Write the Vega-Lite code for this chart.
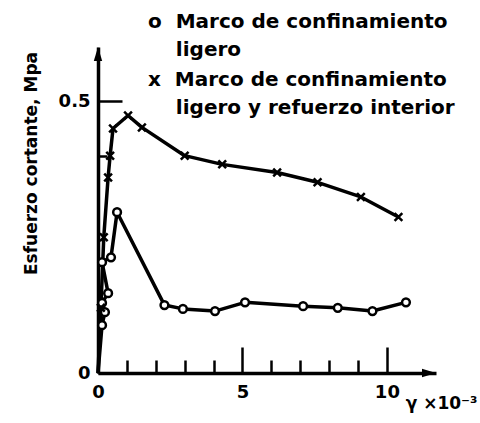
{
  "$schema": "https://vega.github.io/schema/vega-lite/v6.json",
  "width": 338,
  "height": 326,
  "autosize": {"type": "none"},
  "padding": {"left": 98, "top": 47, "right": 44, "bottom": 50},
  "background": "white",
  "config": {"view": {"stroke": null}, "font": "DejaVu Sans", "style": {"guide-label": {"lineHeight": 28}}},
  "datasets": {
    "curves": [
      {"serie": "A", "i": 0, "x": 0, "y": 0},
      {"serie": "A", "i": 1, "x": 0.14, "y": 0.088},
      {"serie": "A", "i": 2, "x": 0.24, "y": 0.112},
      {"serie": "A", "i": 3, "x": 0.14, "y": 0.129},
      {"serie": "A", "i": 4, "x": 0.35, "y": 0.147},
      {"serie": "A", "i": 5, "x": 0.14, "y": 0.204},
      {"serie": "A", "i": 6, "x": 0.45, "y": 0.213},
      {"serie": "A", "i": 7, "x": 0.66, "y": 0.296},
      {"serie": "A", "i": 8, "x": 2.3, "y": 0.125},
      {"serie": "A", "i": 9, "x": 2.94, "y": 0.118},
      {"serie": "A", "i": 10, "x": 4.05, "y": 0.114},
      {"serie": "A", "i": 11, "x": 5.09, "y": 0.13},
      {"serie": "A", "i": 12, "x": 7.1, "y": 0.123},
      {"serie": "A", "i": 13, "x": 8.3, "y": 0.12},
      {"serie": "A", "i": 14, "x": 9.5, "y": 0.114},
      {"serie": "A", "i": 15, "x": 10.66, "y": 0.13},
      {"serie": "B", "i": 0, "x": 0, "y": 0},
      {"serie": "B", "i": 1, "x": 0.1, "y": 0.12},
      {"serie": "B", "i": 2, "x": 0.2, "y": 0.25},
      {"serie": "B", "i": 3, "x": 0.35, "y": 0.36},
      {"serie": "B", "i": 4, "x": 0.42, "y": 0.4},
      {"serie": "B", "i": 5, "x": 0.52, "y": 0.45},
      {"serie": "B", "i": 6, "x": 1.04, "y": 0.474},
      {"serie": "B", "i": 7, "x": 1.52, "y": 0.452},
      {"serie": "B", "i": 8, "x": 3.0, "y": 0.4},
      {"serie": "B", "i": 9, "x": 4.3, "y": 0.384},
      {"serie": "B", "i": 10, "x": 6.2, "y": 0.369},
      {"serie": "B", "i": 11, "x": 7.6, "y": 0.351},
      {"serie": "B", "i": 12, "x": 9.1, "y": 0.324},
      {"serie": "B", "i": 13, "x": 10.4, "y": 0.287}
    ],
    "arrows": [
      {"x": 11.7, "y": 0, "angle": 90},
      {"x": 0, "y": 0.6, "angle": 0}
    ]
  },
  "resolve": {"axis": {"x": "independent", "y": "independent"}},
  "layer": [
    {
      "data": {"name": "curves"},
      "mark": {"type": "line", "color": "black", "strokeWidth": 3.5, "strokeJoin": "round"},
      "encoding": {
        "x": {
          "field": "x", "type": "quantitative",
          "scale": {"domain": [0, 11.7], "nice": false, "zero": false},
          "axis": {
            "orient": "bottom",
            "values": [0, 5, 10],
            "format": "d",
            "grid": false,
            "domainColor": "black", "domainWidth": 3.5,
            "tickColor": "black", "tickWidth": 2.5,
            "tickSize": -26,
            "labelPadding": 36,
            "labelFont": "DejaVu Sans", "labelFontSize": 18, "labelFontWeight": "bold", "labelColor": "black",
            "labelFlush": false, "labelOverlap": false,
            "title": "γ ×10⁻³",
            "titleFont": "DejaVu Sans", "titleFontSize": 17, "titleFontWeight": "bold", "titleColor": "black",
            "titleX": 379, "titleY": 30, "titleAlign": "right", "titleBaseline": "middle"
          }
        },
        "y": {
          "field": "y", "type": "quantitative",
          "scale": {"domain": [0, 0.6], "nice": false},
          "axis": {
            "orient": "left",
            "values": [0, 0.5],
            "format": "~g",
            "grid": false,
            "domainColor": "black", "domainWidth": 3.5,
            "tickColor": "black", "tickWidth": 2.5,
            "tickSize": -24,
            "labelPadding": 32,
            "labelFont": "DejaVu Sans", "labelFontSize": 18, "labelFontWeight": "bold", "labelColor": "black",
            "labelFlush": false, "labelOverlap": false,
            "title": "Esfuerzo cortante, Mpa",
            "titleFont": "DejaVu Sans", "titleFontSize": 17, "titleFontWeight": "bold", "titleColor": "black",
            "titleX": -67, "titleY": 116, "titleAlign": "center", "titleBaseline": "middle", "titleAngle": -90
          }
        },
        "detail": {"field": "serie"},
        "order": {"field": "i", "type": "quantitative"}
      }
    },
    {
      "data": {"name": "curves"},
      "transform": [{"filter": "datum.i > 0"}],
      "mark": {"type": "point", "filled": false, "color": "black", "fill": "white", "strokeWidth": 2.5, "opacity": 1, "size": 60},
      "encoding": {
        "x": {"field": "x", "type": "quantitative", "axis": null},
        "y": {"field": "y", "type": "quantitative", "axis": null},
        "shape": {
          "field": "serie", "type": "nominal",
          "scale": {"domain": ["A", "B"], "range": ["circle", "M-1,-1L1,1M-1,1L1,-1"]},
          "legend": {
            "orient": "none", "legendX": 30, "legendY": -45,
            "title": null,
            "labelExpr": "datum.value == 'A' ? ['o\u00a0\u00a0Marco de confinamiento', '\u200b\u00a0\u00a0\u00a0\u00a0ligero'] : ['x\u00a0\u00a0Marco de confinamiento', '\u200b\u00a0\u00a0\u00a0\u00a0ligero y refuerzo interior']",
            "labelFont": "DejaVu Sans", "labelFontSize": 20, "labelFontWeight": "bold", "labelColor": "black",
            "labelLimit": 440, "labelOffset": 0, "labelBaseline": "top",
            "symbolSize": 0, "symbolOpacity": 0, "symbolStrokeWidth": 0,
            "rowPadding": -3
          }
        }
      }
    },
    {
      "data": {"name": "arrows"},
      "mark": {"type": "point", "shape": "M0,0L0.6,2L-0.6,2Z", "filled": true, "color": "black", "size": 196, "opacity": 1},
      "encoding": {
        "x": {
          "field": "x", "type": "quantitative",
          "axis": {"orient": "bottom", "values": [1, 2, 3, 4, 6, 7, 8, 9], "labels": false, "domain": false, "grid": false, "title": null, "tickColor": "black", "tickWidth": 2.5, "tickSize": -13}
        },
        "y": {
          "field": "y", "type": "quantitative",
          "axis": {"orient": "left", "values": [0.4], "labels": false, "domain": false, "grid": false, "title": null, "tickColor": "black", "tickWidth": 2.5, "tickSize": -9}
        },
        "angle": {"field": "angle", "type": "quantitative", "scale": null}
      }
    }
  ]
}
